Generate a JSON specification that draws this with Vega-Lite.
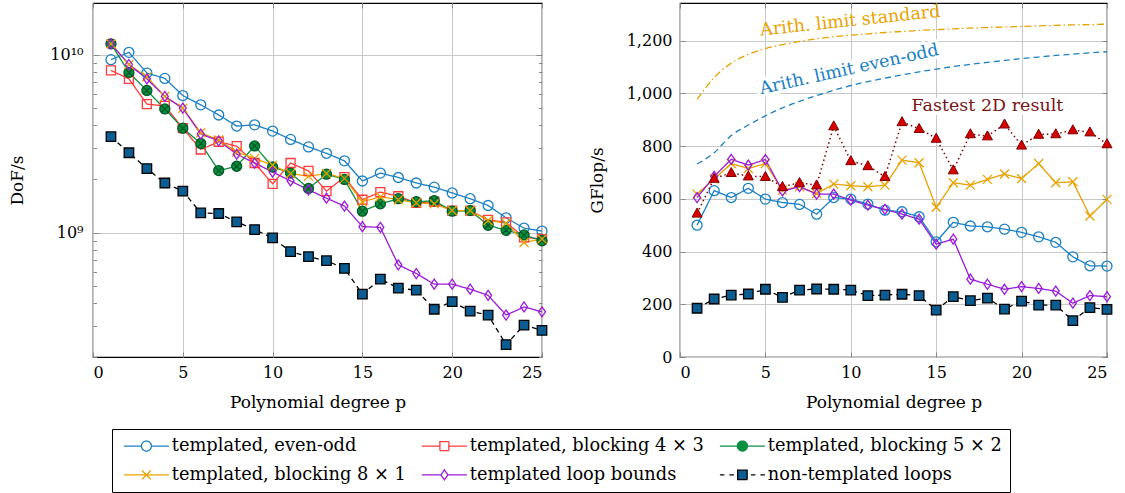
{
  "$schema": "https://vega.github.io/schema/vega-lite/v6.json",
  "background": "white",
  "padding": {"left": 8, "top": 1, "right": 5, "bottom": 5},
  "spacing": 36,
  "config": {
    "font": "DejaVu Serif",
    "view": {"stroke": "black", "strokeWidth": 1.2},
    "axis": {"labelFont": "DejaVu Serif", "labelFontSize": 16, "labelColor": "black", "titleFont": "DejaVu Serif", "titleFontSize": 17, "titleFontWeight": "normal", "titleColor": "black", "domain": false, "tickColor": "#888888", "gridColor": "#c8c8c8", "gridWidth": 1}
  },
  "datasets": {
    "dof": [
      {"s": "templated, even-odd", "p": 1, "v": 9.37e9}, {"s": "templated, even-odd", "p": 2, "v": 1.03e10}, {"s": "templated, even-odd", "p": 3, "v": 7.88e9}, {"s": "templated, even-odd", "p": 4, "v": 7.35e9}, {"s": "templated, even-odd", "p": 5, "v": 5.89e9}, {"s": "templated, even-odd", "p": 6, "v": 5.22e9}, {"s": "templated, even-odd", "p": 7, "v": 4.58e9}, {"s": "templated, even-odd", "p": 8, "v": 3.97e9}, {"s": "templated, even-odd", "p": 9, "v": 4.03e9}, {"s": "templated, even-odd", "p": 10, "v": 3.72e9}, {"s": "templated, even-odd", "p": 11, "v": 3.34e9}, {"s": "templated, even-odd", "p": 12, "v": 3.03e9}, {"s": "templated, even-odd", "p": 13, "v": 2.79e9}, {"s": "templated, even-odd", "p": 14, "v": 2.53e9}, {"s": "templated, even-odd", "p": 15, "v": 1.95e9}, {"s": "templated, even-odd", "p": 16, "v": 2.16e9}, {"s": "templated, even-odd", "p": 17, "v": 2.04e9}, {"s": "templated, even-odd", "p": 18, "v": 1.90e9}, {"s": "templated, even-odd", "p": 19, "v": 1.80e9}, {"s": "templated, even-odd", "p": 20, "v": 1.67e9}, {"s": "templated, even-odd", "p": 21, "v": 1.55e9}, {"s": "templated, even-odd", "p": 22, "v": 1.42e9}, {"s": "templated, even-odd", "p": 23, "v": 1.21e9}, {"s": "templated, even-odd", "p": 24, "v": 1.06e9}, {"s": "templated, even-odd", "p": 25, "v": 1.02e9},
      {"s": "templated, blocking 4 × 3", "p": 1, "v": 8.15e9}, {"s": "templated, blocking 4 × 3", "p": 2, "v": 7.31e9}, {"s": "templated, blocking 4 × 3", "p": 3, "v": 5.27e9}, {"s": "templated, blocking 4 × 3", "p": 4, "v": 5.15e9}, {"s": "templated, blocking 4 × 3", "p": 5, "v": 3.86e9}, {"s": "templated, blocking 4 × 3", "p": 6, "v": 2.93e9}, {"s": "templated, blocking 4 × 3", "p": 7, "v": 3.24e9}, {"s": "templated, blocking 4 × 3", "p": 8, "v": 3.06e9}, {"s": "templated, blocking 4 × 3", "p": 9, "v": 2.46e9}, {"s": "templated, blocking 4 × 3", "p": 10, "v": 1.88e9}, {"s": "templated, blocking 4 × 3", "p": 11, "v": 2.46e9}, {"s": "templated, blocking 4 × 3", "p": 12, "v": 2.22e9}, {"s": "templated, blocking 4 × 3", "p": 13, "v": 1.71e9}, {"s": "templated, blocking 4 × 3", "p": 14, "v": 2.05e9}, {"s": "templated, blocking 4 × 3", "p": 15, "v": 1.53e9}, {"s": "templated, blocking 4 × 3", "p": 16, "v": 1.69e9}, {"s": "templated, blocking 4 × 3", "p": 17, "v": 1.60e9}, {"s": "templated, blocking 4 × 3", "p": 18, "v": 1.47e9}, {"s": "templated, blocking 4 × 3", "p": 19, "v": 1.49e9}, {"s": "templated, blocking 4 × 3", "p": 20, "v": 1.33e9}, {"s": "templated, blocking 4 × 3", "p": 21, "v": 1.33e9}, {"s": "templated, blocking 4 × 3", "p": 22, "v": 1.18e9}, {"s": "templated, blocking 4 × 3", "p": 23, "v": 1.14e9}, {"s": "templated, blocking 4 × 3", "p": 24, "v": 9.4e8}, {"s": "templated, blocking 4 × 3", "p": 25, "v": 9.2e8},
      {"s": "templated, blocking 5 × 2", "p": 1, "v": 1.15e10}, {"s": "templated, blocking 5 × 2", "p": 2, "v": 7.94e9}, {"s": "templated, blocking 5 × 2", "p": 3, "v": 6.29e9}, {"s": "templated, blocking 5 × 2", "p": 4, "v": 4.95e9}, {"s": "templated, blocking 5 × 2", "p": 5, "v": 3.86e9}, {"s": "templated, blocking 5 × 2", "p": 6, "v": 3.17e9}, {"s": "templated, blocking 5 × 2", "p": 7, "v": 2.23e9}, {"s": "templated, blocking 5 × 2", "p": 8, "v": 2.36e9}, {"s": "templated, blocking 5 × 2", "p": 9, "v": 3.07e9}, {"s": "templated, blocking 5 × 2", "p": 10, "v": 2.34e9}, {"s": "templated, blocking 5 × 2", "p": 11, "v": 2.16e9}, {"s": "templated, blocking 5 × 2", "p": 12, "v": 1.77e9}, {"s": "templated, blocking 5 × 2", "p": 13, "v": 2.13e9}, {"s": "templated, blocking 5 × 2", "p": 14, "v": 1.99e9}, {"s": "templated, blocking 5 × 2", "p": 15, "v": 1.32e9}, {"s": "templated, blocking 5 × 2", "p": 16, "v": 1.45e9}, {"s": "templated, blocking 5 × 2", "p": 17, "v": 1.55e9}, {"s": "templated, blocking 5 × 2", "p": 18, "v": 1.49e9}, {"s": "templated, blocking 5 × 2", "p": 19, "v": 1.51e9}, {"s": "templated, blocking 5 × 2", "p": 20, "v": 1.32e9}, {"s": "templated, blocking 5 × 2", "p": 21, "v": 1.33e9}, {"s": "templated, blocking 5 × 2", "p": 22, "v": 1.10e9}, {"s": "templated, blocking 5 × 2", "p": 23, "v": 1.03e9}, {"s": "templated, blocking 5 × 2", "p": 24, "v": 9.7e8}, {"s": "templated, blocking 5 × 2", "p": 25, "v": 9.0e8},
      {"s": "templated, blocking 8 × 1", "p": 1, "v": 1.15e10}, {"s": "templated, blocking 8 × 1", "p": 2, "v": 8.8e9}, {"s": "templated, blocking 8 × 1", "p": 3, "v": 7.48e9}, {"s": "templated, blocking 8 × 1", "p": 4, "v": 5.82e9}, {"s": "templated, blocking 8 × 1", "p": 5, "v": 5.0e9}, {"s": "templated, blocking 8 × 1", "p": 6, "v": 3.64e9}, {"s": "templated, blocking 8 × 1", "p": 7, "v": 3.31e9}, {"s": "templated, blocking 8 × 1", "p": 8, "v": 2.84e9}, {"s": "templated, blocking 8 × 1", "p": 9, "v": 2.61e9}, {"s": "templated, blocking 8 × 1", "p": 10, "v": 2.39e9}, {"s": "templated, blocking 8 × 1", "p": 11, "v": 2.15e9}, {"s": "templated, blocking 8 × 1", "p": 12, "v": 2.07e9}, {"s": "templated, blocking 8 × 1", "p": 13, "v": 2.15e9}, {"s": "templated, blocking 8 × 1", "p": 14, "v": 2.01e9}, {"s": "templated, blocking 8 × 1", "p": 15, "v": 1.49e9}, {"s": "templated, blocking 8 × 1", "p": 16, "v": 1.59e9}, {"s": "templated, blocking 8 × 1", "p": 17, "v": 1.53e9}, {"s": "templated, blocking 8 × 1", "p": 18, "v": 1.47e9}, {"s": "templated, blocking 8 × 1", "p": 19, "v": 1.45e9}, {"s": "templated, blocking 8 × 1", "p": 20, "v": 1.33e9}, {"s": "templated, blocking 8 × 1", "p": 21, "v": 1.33e9}, {"s": "templated, blocking 8 × 1", "p": 22, "v": 1.17e9}, {"s": "templated, blocking 8 × 1", "p": 23, "v": 1.13e9}, {"s": "templated, blocking 8 × 1", "p": 24, "v": 8.8e8}, {"s": "templated, blocking 8 × 1", "p": 25, "v": 9.2e8},
      {"s": "templated loop bounds", "p": 1, "v": 1.15e10}, {"s": "templated loop bounds", "p": 2, "v": 8.8e9}, {"s": "templated loop bounds", "p": 3, "v": 7.31e9}, {"s": "templated loop bounds", "p": 4, "v": 5.82e9}, {"s": "templated loop bounds", "p": 5, "v": 5.0e9}, {"s": "templated loop bounds", "p": 6, "v": 3.58e9}, {"s": "templated loop bounds", "p": 7, "v": 3.28e9}, {"s": "templated loop bounds", "p": 8, "v": 2.76e9}, {"s": "templated loop bounds", "p": 9, "v": 2.46e9}, {"s": "templated loop bounds", "p": 10, "v": 2.19e9}, {"s": "templated loop bounds", "p": 11, "v": 1.95e9}, {"s": "templated loop bounds", "p": 12, "v": 1.74e9}, {"s": "templated loop bounds", "p": 13, "v": 1.56e9}, {"s": "templated loop bounds", "p": 14, "v": 1.41e9}, {"s": "templated loop bounds", "p": 15, "v": 1.08e9}, {"s": "templated loop bounds", "p": 16, "v": 1.07e9}, {"s": "templated loop bounds", "p": 17, "v": 6.59e8}, {"s": "templated loop bounds", "p": 18, "v": 5.89e8}, {"s": "templated loop bounds", "p": 19, "v": 5.13e8}, {"s": "templated loop bounds", "p": 20, "v": 5.13e8}, {"s": "templated loop bounds", "p": 21, "v": 4.81e8}, {"s": "templated loop bounds", "p": 22, "v": 4.44e8}, {"s": "templated loop bounds", "p": 23, "v": 3.44e8}, {"s": "templated loop bounds", "p": 24, "v": 3.82e8}, {"s": "templated loop bounds", "p": 25, "v": 3.59e8},
      {"s": "non-templated loops", "p": 1, "v": 3.46e9}, {"s": "non-templated loops", "p": 2, "v": 2.81e9}, {"s": "non-templated loops", "p": 3, "v": 2.29e9}, {"s": "non-templated loops", "p": 4, "v": 1.90e9}, {"s": "non-templated loops", "p": 5, "v": 1.71e9}, {"s": "non-templated loops", "p": 6, "v": 1.29e9}, {"s": "non-templated loops", "p": 7, "v": 1.28e9}, {"s": "non-templated loops", "p": 8, "v": 1.15e9}, {"s": "non-templated loops", "p": 9, "v": 1.04e9}, {"s": "non-templated loops", "p": 10, "v": 9.33e8}, {"s": "non-templated loops", "p": 11, "v": 7.81e8}, {"s": "non-templated loops", "p": 12, "v": 7.32e8}, {"s": "non-templated loops", "p": 13, "v": 6.95e8}, {"s": "non-templated loops", "p": 14, "v": 6.29e8}, {"s": "non-templated loops", "p": 15, "v": 4.51e8}, {"s": "non-templated loops", "p": 16, "v": 5.48e8}, {"s": "non-templated loops", "p": 17, "v": 4.87e8}, {"s": "non-templated loops", "p": 18, "v": 4.75e8}, {"s": "non-templated loops", "p": 19, "v": 3.71e8}, {"s": "non-templated loops", "p": 20, "v": 4.09e8}, {"s": "non-templated loops", "p": 21, "v": 3.62e8}, {"s": "non-templated loops", "p": 22, "v": 3.44e8}, {"s": "non-templated loops", "p": 23, "v": 2.35e8}, {"s": "non-templated loops", "p": 24, "v": 3.02e8}, {"s": "non-templated loops", "p": 25, "v": 2.82e8}
    ],
    "gflop": [
      {"s": "templated, even-odd", "p": 1, "v": 500}, {"s": "templated, even-odd", "p": 2, "v": 631}, {"s": "templated, even-odd", "p": 3, "v": 605}, {"s": "templated, even-odd", "p": 4, "v": 640}, {"s": "templated, even-odd", "p": 5, "v": 599}, {"s": "templated, even-odd", "p": 6, "v": 586}, {"s": "templated, even-odd", "p": 7, "v": 579}, {"s": "templated, even-odd", "p": 8, "v": 542}, {"s": "templated, even-odd", "p": 9, "v": 605}, {"s": "templated, even-odd", "p": 10, "v": 599}, {"s": "templated, even-odd", "p": 11, "v": 580}, {"s": "templated, even-odd", "p": 12, "v": 557}, {"s": "templated, even-odd", "p": 13, "v": 551}, {"s": "templated, even-odd", "p": 14, "v": 532}, {"s": "templated, even-odd", "p": 15, "v": 437}, {"s": "templated, even-odd", "p": 16, "v": 511}, {"s": "templated, even-odd", "p": 17, "v": 497}, {"s": "templated, even-odd", "p": 18, "v": 494}, {"s": "templated, even-odd", "p": 19, "v": 485}, {"s": "templated, even-odd", "p": 20, "v": 473}, {"s": "templated, even-odd", "p": 21, "v": 456}, {"s": "templated, even-odd", "p": 22, "v": 435}, {"s": "templated, even-odd", "p": 23, "v": 380}, {"s": "templated, even-odd", "p": 24, "v": 346}, {"s": "templated, even-odd", "p": 25, "v": 345},
      {"s": "templated, blocking 8 × 1", "p": 1, "v": 618}, {"s": "templated, blocking 8 × 1", "p": 2, "v": 675}, {"s": "templated, blocking 8 × 1", "p": 3, "v": 734}, {"s": "templated, blocking 8 × 1", "p": 4, "v": 715}, {"s": "templated, blocking 8 × 1", "p": 5, "v": 734}, {"s": "templated, blocking 8 × 1", "p": 6, "v": 633}, {"s": "templated, blocking 8 × 1", "p": 7, "v": 646}, {"s": "templated, blocking 8 × 1", "p": 8, "v": 620}, {"s": "templated, blocking 8 × 1", "p": 9, "v": 656}, {"s": "templated, blocking 8 × 1", "p": 10, "v": 650}, {"s": "templated, blocking 8 × 1", "p": 11, "v": 646}, {"s": "templated, blocking 8 × 1", "p": 12, "v": 652}, {"s": "templated, blocking 8 × 1", "p": 13, "v": 747}, {"s": "templated, blocking 8 × 1", "p": 14, "v": 737}, {"s": "templated, blocking 8 × 1", "p": 15, "v": 568}, {"s": "templated, blocking 8 × 1", "p": 16, "v": 661}, {"s": "templated, blocking 8 × 1", "p": 17, "v": 652}, {"s": "templated, blocking 8 × 1", "p": 18, "v": 674}, {"s": "templated, blocking 8 × 1", "p": 19, "v": 694}, {"s": "templated, blocking 8 × 1", "p": 20, "v": 677}, {"s": "templated, blocking 8 × 1", "p": 21, "v": 734}, {"s": "templated, blocking 8 × 1", "p": 22, "v": 661}, {"s": "templated, blocking 8 × 1", "p": 23, "v": 665}, {"s": "templated, blocking 8 × 1", "p": 24, "v": 535}, {"s": "templated, blocking 8 × 1", "p": 25, "v": 598},
      {"s": "templated loop bounds", "p": 1, "v": 605}, {"s": "templated loop bounds", "p": 2, "v": 685}, {"s": "templated loop bounds", "p": 3, "v": 750}, {"s": "templated loop bounds", "p": 4, "v": 728}, {"s": "templated loop bounds", "p": 5, "v": 749}, {"s": "templated loop bounds", "p": 6, "v": 630}, {"s": "templated loop bounds", "p": 7, "v": 646}, {"s": "templated loop bounds", "p": 8, "v": 618}, {"s": "templated loop bounds", "p": 9, "v": 618}, {"s": "templated loop bounds", "p": 10, "v": 595}, {"s": "templated loop bounds", "p": 11, "v": 576}, {"s": "templated loop bounds", "p": 12, "v": 560}, {"s": "templated loop bounds", "p": 13, "v": 542}, {"s": "templated loop bounds", "p": 14, "v": 523}, {"s": "templated loop bounds", "p": 15, "v": 428}, {"s": "templated loop bounds", "p": 16, "v": 447}, {"s": "templated loop bounds", "p": 17, "v": 295}, {"s": "templated loop bounds", "p": 18, "v": 276}, {"s": "templated loop bounds", "p": 19, "v": 257}, {"s": "templated loop bounds", "p": 20, "v": 267}, {"s": "templated loop bounds", "p": 21, "v": 260}, {"s": "templated loop bounds", "p": 22, "v": 250}, {"s": "templated loop bounds", "p": 23, "v": 204}, {"s": "templated loop bounds", "p": 24, "v": 233}, {"s": "templated loop bounds", "p": 25, "v": 229},
      {"s": "non-templated loops", "p": 1, "v": 185}, {"s": "non-templated loops", "p": 2, "v": 220}, {"s": "non-templated loops", "p": 3, "v": 235}, {"s": "non-templated loops", "p": 4, "v": 239}, {"s": "non-templated loops", "p": 5, "v": 257}, {"s": "non-templated loops", "p": 6, "v": 226}, {"s": "non-templated loops", "p": 7, "v": 254}, {"s": "non-templated loops", "p": 8, "v": 258}, {"s": "non-templated loops", "p": 9, "v": 257}, {"s": "non-templated loops", "p": 10, "v": 254}, {"s": "non-templated loops", "p": 11, "v": 233}, {"s": "non-templated loops", "p": 12, "v": 235}, {"s": "non-templated loops", "p": 13, "v": 238}, {"s": "non-templated loops", "p": 14, "v": 233}, {"s": "non-templated loops", "p": 15, "v": 178}, {"s": "non-templated loops", "p": 16, "v": 229}, {"s": "non-templated loops", "p": 17, "v": 214}, {"s": "non-templated loops", "p": 18, "v": 223}, {"s": "non-templated loops", "p": 19, "v": 182}, {"s": "non-templated loops", "p": 20, "v": 212}, {"s": "non-templated loops", "p": 21, "v": 197}, {"s": "non-templated loops", "p": 22, "v": 197}, {"s": "non-templated loops", "p": 23, "v": 138}, {"s": "non-templated loops", "p": 24, "v": 187}, {"s": "non-templated loops", "p": 25, "v": 181}
    ],
    "fastest": [
      {"p": 1, "v": 545}, {"p": 2, "v": 677}, {"p": 3, "v": 699}, {"p": 4, "v": 686}, {"p": 5, "v": 684}, {"p": 6, "v": 646}, {"p": 7, "v": 661}, {"p": 8, "v": 652}, {"p": 9, "v": 876}, {"p": 10, "v": 744}, {"p": 11, "v": 725}, {"p": 12, "v": 684}, {"p": 13, "v": 892}, {"p": 14, "v": 866}, {"p": 15, "v": 829}, {"p": 16, "v": 709}, {"p": 17, "v": 846}, {"p": 18, "v": 838}, {"p": 19, "v": 883}, {"p": 20, "v": 803}, {"p": 21, "v": 844}, {"p": 22, "v": 846}, {"p": 23, "v": 861}, {"p": 24, "v": 853}, {"p": 25, "v": 808}
    ],
    "limits": [
      {"s": "standard", "p": 1, "v": 977}, {"s": "standard", "p": 2, "v": 1060}, {"s": "standard", "p": 3, "v": 1115}, {"s": "standard", "p": 4, "v": 1148}, {"s": "standard", "p": 5, "v": 1170}, {"s": "standard", "p": 6, "v": 1185}, {"s": "standard", "p": 7, "v": 1197}, {"s": "standard", "p": 8, "v": 1207}, {"s": "standard", "p": 9, "v": 1215}, {"s": "standard", "p": 10, "v": 1221}, {"s": "standard", "p": 11, "v": 1226}, {"s": "standard", "p": 12, "v": 1231}, {"s": "standard", "p": 13, "v": 1235}, {"s": "standard", "p": 14, "v": 1239}, {"s": "standard", "p": 15, "v": 1242}, {"s": "standard", "p": 16, "v": 1245}, {"s": "standard", "p": 17, "v": 1248}, {"s": "standard", "p": 18, "v": 1250}, {"s": "standard", "p": 19, "v": 1252}, {"s": "standard", "p": 20, "v": 1254}, {"s": "standard", "p": 21, "v": 1256}, {"s": "standard", "p": 22, "v": 1258}, {"s": "standard", "p": 23, "v": 1260}, {"s": "standard", "p": 24, "v": 1261}, {"s": "standard", "p": 25, "v": 1263},
      {"s": "even-odd", "p": 1, "v": 732}, {"s": "even-odd", "p": 2, "v": 775}, {"s": "even-odd", "p": 3, "v": 840}, {"s": "even-odd", "p": 4, "v": 880}, {"s": "even-odd", "p": 5, "v": 915}, {"s": "even-odd", "p": 6, "v": 945}, {"s": "even-odd", "p": 7, "v": 970}, {"s": "even-odd", "p": 8, "v": 992}, {"s": "even-odd", "p": 9, "v": 1012}, {"s": "even-odd", "p": 10, "v": 1030}, {"s": "even-odd", "p": 11, "v": 1045}, {"s": "even-odd", "p": 12, "v": 1058}, {"s": "even-odd", "p": 13, "v": 1070}, {"s": "even-odd", "p": 14, "v": 1082}, {"s": "even-odd", "p": 15, "v": 1092}, {"s": "even-odd", "p": 16, "v": 1102}, {"s": "even-odd", "p": 17, "v": 1110}, {"s": "even-odd", "p": 18, "v": 1118}, {"s": "even-odd", "p": 19, "v": 1125}, {"s": "even-odd", "p": 20, "v": 1132}, {"s": "even-odd", "p": 21, "v": 1138}, {"s": "even-odd", "p": 22, "v": 1144}, {"s": "even-odd", "p": 23, "v": 1149}, {"s": "even-odd", "p": 24, "v": 1154}, {"s": "even-odd", "p": 25, "v": 1158}
    ],
    "notes": [
      {"label": "Arith. limit standard", "p": 9.97, "v": 1274},
      {"label": "Arith. limit even-odd", "p": 9.9, "v": 1090},
      {"label": "Fastest 2D result", "p": 18.0, "v": 952}
    ]
  },
  "hconcat": [
    {
      "width": 449,
      "height": 354,
      "data": {"name": "dof"},
      "layer": [
        {
          "encoding": {
            "x": {"field": "p", "type": "quantitative", "scale": {"domain": [0, 25], "nice": false}, "axis": {"title": "Polynomial degree p", "values": [0, 5, 10, 15, 20, 25], "tickSize": -5, "labelPadding": 12, "titlePadding": 14, "grid": true}},
            "y": {"field": "v", "type": "quantitative", "scale": {"type": "log", "domain": [2e8, 1.95e10], "nice": false},
              "axis": {"title": "DoF/s", "values": [2e8, 3e8, 4e8, 5e8, 6e8, 7e8, 8e8, 9e8, 1e9, 2e9, 3e9, 4e9, 5e9, 6e9, 7e9, 8e9, 9e9, 1e10],
                "labelExpr": "datum.value == 1e10 ? '10¹⁰' : (datum.value == 1e9 ? '10⁹' : '')",
                "grid": true,
                "gridOpacity": {"condition": {"test": "datum.value == 1e9 || datum.value == 1e10", "value": 1}, "value": 0},
                "tickSize": {"condition": {"test": "datum.value == 1e9 || datum.value == 1e10", "value": -6}, "value": -3.5},
                "labelPadding": 16, "titlePadding": 23}}
          },
          "layer": [
            {
              "mark": {"type": "line", "strokeWidth": 1.3},
              "encoding": {
                "color": {"field": "s", "type": "nominal",
                  "scale": {"domain": ["templated, even-odd", "templated, blocking 4 × 3", "templated, blocking 5 × 2", "templated, blocking 8 × 1", "templated loop bounds", "non-templated loops"], "range": ["#1a80c4", "#ff3b3b", "#0a9040", "#e8a200", "#9b1bd9", "#000000"]},
                  "legend": {"orient": "none", "legendX": 19, "legendY": 426, "direction": "horizontal", "columns": 3, "title": null, "strokeColor": "black", "fillColor": "white", "padding": 8, "columnPadding": 12, "rowPadding": 10, "labelFont": "DejaVu Serif", "labelFontSize": 17.8, "labelColor": "black", "labelOffset": 34, "symbolSize": 100, "symbolStrokeWidth": 1.3, "labelLimit": 400,
                    "encoding": {"symbols": {
                      "shape": {"value": {"expr": "datum.value == 'templated, even-odd' ? 'M-1,0H2.5M4.5,0H8M2.5,0A1,1,0,1,0,4.5,0A1,1,0,1,0,2.5,0' : (datum.value == 'templated, blocking 4 × 3' ? 'M-1,0H2.6M4.4,0H8M2.6,-0.9H4.4V0.9H2.6Z' : (datum.value == 'templated, blocking 5 × 2' ? 'M-1,0H2.5M4.5,0H8M2.5,0A1,1,0,1,0,4.5,0A1,1,0,1,0,2.5,0ZM2.9,-0.6L4.1,0.6M2.9,0.6L4.1,-0.6' : (datum.value == 'templated, blocking 8 × 1' ? 'M-1,0H8M2.6,-0.9L4.4,0.9M2.6,0.9L4.4,-0.9' : (datum.value == 'templated loop bounds' ? 'M-1,0H2.8M4.2,0H8M3.5,-1L4.2,0L3.5,1L2.8,0Z' : 'M-1,0H-0.1M0.9,0H1.8M5.2,0H6.1M7.1,0H8M2.55,-0.95H4.45V0.95H2.55Z'))))"}},
                      "fill": {"value": {"expr": "datum.value == 'templated, blocking 5 × 2' ? '#0a9040' : (datum.value == 'non-templated loops' ? '#0b5d91' : 'white')"}},
                      "stroke": {"value": {"expr": "datum.value == 'templated, even-odd' ? '#1a80c4' : (datum.value == 'templated, blocking 4 × 3' ? '#ff3b3b' : (datum.value == 'templated, blocking 5 × 2' ? '#0a9040' : (datum.value == 'templated, blocking 8 × 1' ? '#e8a200' : (datum.value == 'templated loop bounds' ? '#9b1bd9' : '#000000'))))"}},
                      "strokeDash": {"value": [1, 0]},
                      "opacity": {"value": 1}
                    }}}
                },
                "strokeDash": {"field": "s", "type": "nominal", "scale": {"domain": ["non-templated loops", "templated loop bounds", "templated, blocking 8 × 1", "templated, blocking 5 × 2", "templated, blocking 4 × 3", "templated, even-odd"], "range": [[5, 4], [1, 0], [1, 0], [1, 0], [1, 0], [1, 0]]}, "legend": null}
              }
            },
            {
              "mark": {"type": "point", "size": 100, "strokeWidth": 1.3, "opacity": 1},
              "encoding": {
                "shape": {"field": "s", "type": "nominal", "scale": {"domain": ["non-templated loops", "templated loop bounds", "templated, blocking 8 × 1", "templated, blocking 5 × 2", "templated, blocking 4 × 3", "templated, even-odd"], "range": ["M-0.95,-0.95H0.95V0.95H-0.95Z", "M0,-1L0.7,0L0,1L-0.7,0Z", "M-0.9,-0.9L0.9,0.9M-0.9,0.9L0.9,-0.9", "M-1,0A1,1,0,1,0,1,0A1,1,0,1,0,-1,0ZM-0.6,-0.6L0.6,0.6M-0.6,0.6L0.6,-0.6", "M-0.9,-0.9H0.9V0.9H-0.9Z", "circle"]}, "legend": null},
                "stroke": {"field": "s", "type": "nominal", "scale": {"domain": ["non-templated loops", "templated loop bounds", "templated, blocking 8 × 1", "templated, blocking 5 × 2", "templated, blocking 4 × 3", "templated, even-odd"], "range": ["#000000", "#9b1bd9", "#e8a200", "#005a25", "#ff3b3b", "#1a80c4"]}, "legend": null},
                "fill": {"field": "s", "type": "nominal", "scale": {"domain": ["non-templated loops", "templated loop bounds", "templated, blocking 8 × 1", "templated, blocking 5 × 2", "templated, blocking 4 × 3", "templated, even-odd"], "range": ["#0b5d91", "transparent", "transparent", "#0a9040", "transparent", "transparent"]}, "legend": null}
              }
            }
          ]
        },
        {
          "mark": {"type": "point", "opacity": 0},
          "encoding": {
            "x": {"field": "p", "type": "quantitative", "scale": {"domain": [0, 25], "nice": false}, "axis": {"orient": "top", "title": null, "labels": false, "values": [0, 5, 10, 15, 20, 25], "tickSize": -5, "grid": false}},
            "y": {"field": "v", "type": "quantitative", "scale": {"type": "log", "domain": [2e8, 1.95e10], "nice": false},
              "axis": {"orient": "right", "title": null, "labels": false, "grid": false, "values": [2e8, 3e8, 4e8, 5e8, 6e8, 7e8, 8e8, 9e8, 1e9, 2e9, 3e9, 4e9, 5e9, 6e9, 7e9, 8e9, 9e9, 1e10],
                "tickSize": {"condition": {"test": "datum.value == 1e9 || datum.value == 1e10", "value": -6}, "value": -3.5}}}
          }
        }
      ],
      "resolve": {"axis": {"x": "independent", "y": "independent"}}
    },
    {
      "width": 427,
      "height": 354,
      "layer": [
        {
          "encoding": {
            "x": {"field": "p", "type": "quantitative", "scale": {"domain": [0, 25], "nice": false}, "axis": {"title": "Polynomial degree p", "values": [0, 5, 10, 15, 20, 25], "tickSize": -5, "labelPadding": 12, "titlePadding": 14, "grid": true}},
            "y": {"field": "v", "type": "quantitative", "scale": {"domain": [0, 1343], "nice": false}, "axis": {"title": "GFlop/s", "values": [0, 200, 400, 600, 800, 1000, 1200], "format": ",d", "tickSize": -5, "grid": true, "labelPadding": 13, "titlePadding": 20}}
          },
          "layer": [
            {
              "data": {"name": "limits"},
              "transform": [{"filter": "datum.s == 'standard'"}],
              "mark": {"type": "line", "color": "#e8a200", "strokeWidth": 1.3, "strokeDash": [7, 3, 1.5, 3], "interpolate": "monotone"}
            },
            {
              "data": {"name": "limits"},
              "transform": [{"filter": "datum.s == 'even-odd'"}],
              "mark": {"type": "line", "color": "#1a80c4", "strokeWidth": 1.3, "strokeDash": [6, 4], "interpolate": "monotone"}
            },
            {
              "data": {"name": "gflop"},
              "mark": {"type": "line", "strokeWidth": 1.3},
              "encoding": {
                "color": {"field": "s", "type": "nominal", "scale": {"domain": ["templated, even-odd", "templated, blocking 4 × 3", "templated, blocking 5 × 2", "templated, blocking 8 × 1", "templated loop bounds", "non-templated loops"], "range": ["#1a80c4", "#ff3b3b", "#0a9040", "#e8a200", "#9b1bd9", "#000000"]}},
                "strokeDash": {"field": "s", "type": "nominal", "scale": {"domain": ["non-templated loops", "templated loop bounds", "templated, blocking 8 × 1", "templated, blocking 5 × 2", "templated, blocking 4 × 3", "templated, even-odd"], "range": [[5, 4], [1, 0], [1, 0], [1, 0], [1, 0], [1, 0]]}, "legend": null}
              }
            },
            {
              "data": {"name": "gflop"},
              "mark": {"type": "point", "size": 100, "strokeWidth": 1.3, "opacity": 1},
              "encoding": {
                "shape": {"field": "s", "type": "nominal", "scale": {"domain": ["non-templated loops", "templated loop bounds", "templated, blocking 8 × 1", "templated, blocking 5 × 2", "templated, blocking 4 × 3", "templated, even-odd"], "range": ["M-0.95,-0.95H0.95V0.95H-0.95Z", "M0,-1L0.7,0L0,1L-0.7,0Z", "M-0.9,-0.9L0.9,0.9M-0.9,0.9L0.9,-0.9", "M-1,0A1,1,0,1,0,1,0A1,1,0,1,0,-1,0ZM-0.6,-0.6L0.6,0.6M-0.6,0.6L0.6,-0.6", "M-0.9,-0.9H0.9V0.9H-0.9Z", "circle"]}, "legend": null},
                "stroke": {"field": "s", "type": "nominal", "scale": {"domain": ["non-templated loops", "templated loop bounds", "templated, blocking 8 × 1", "templated, blocking 5 × 2", "templated, blocking 4 × 3", "templated, even-odd"], "range": ["#000000", "#9b1bd9", "#e8a200", "#005a25", "#ff3b3b", "#1a80c4"]}, "legend": null},
                "fill": {"field": "s", "type": "nominal", "scale": {"domain": ["non-templated loops", "templated loop bounds", "templated, blocking 8 × 1", "templated, blocking 5 × 2", "templated, blocking 4 × 3", "templated, even-odd"], "range": ["#0b5d91", "transparent", "transparent", "#0a9040", "transparent", "transparent"]}, "legend": null}
              }
            },
            {
              "data": {"name": "fastest"},
              "mark": {"type": "line", "color": "#800000", "strokeWidth": 1.5, "strokeDash": [1.5, 3]}
            },
            {
              "data": {"name": "fastest"},
              "mark": {"type": "point", "shape": "M0,-1.05L1,0.75L-1,0.75Z", "size": 100, "filled": true, "fill": "#d40000", "stroke": "#800000", "strokeWidth": 1, "opacity": 1}
            },
            {
              "data": {"name": "notes"},
              "transform": [{"filter": "datum.label == 'Arith. limit standard'"}],
              "mark": {"type": "text", "angle": -6, "fontSize": 17.5, "font": "DejaVu Serif", "color": "#e8a200"},
              "encoding": {"text": {"field": "label"}}
            },
            {
              "data": {"name": "notes"},
              "transform": [{"filter": "datum.label == 'Arith. limit even-odd'"}],
              "mark": {"type": "text", "angle": -12.5, "fontSize": 17.5, "font": "DejaVu Serif", "color": "white", "stroke": "white", "strokeWidth": 7, "strokeJoin": "round"},
              "encoding": {"text": {"field": "label"}}
            },
            {
              "data": {"name": "notes"},
              "transform": [{"filter": "datum.label == 'Arith. limit even-odd'"}],
              "mark": {"type": "text", "angle": -12.5, "fontSize": 17.5, "font": "DejaVu Serif", "color": "#1a80c4"},
              "encoding": {"text": {"field": "label"}}
            },
            {
              "data": {"name": "notes"},
              "transform": [{"filter": "datum.label == 'Fastest 2D result'"}],
              "mark": {"type": "text", "fontSize": 17.5, "font": "DejaVu Serif", "color": "white", "stroke": "white", "strokeWidth": 8, "strokeJoin": "round"},
              "encoding": {"text": {"field": "label"}}
            },
            {
              "data": {"name": "notes"},
              "transform": [{"filter": "datum.label == 'Fastest 2D result'"}],
              "mark": {"type": "text", "fontSize": 17.5, "font": "DejaVu Serif", "color": "#7a1515"},
              "encoding": {"text": {"field": "label"}}
            }
          ]
        },
        {
          "data": {"name": "gflop"},
          "mark": {"type": "point", "opacity": 0},
          "encoding": {
            "x": {"field": "p", "type": "quantitative", "scale": {"domain": [0, 25], "nice": false}, "axis": {"orient": "top", "title": null, "labels": false, "values": [0, 5, 10, 15, 20, 25], "tickSize": -5, "grid": false}},
            "y": {"field": "v", "type": "quantitative", "scale": {"domain": [0, 1343], "nice": false}, "axis": {"orient": "right", "title": null, "labels": false, "grid": false, "values": [0, 200, 400, 600, 800, 1000, 1200], "tickSize": -5}}
          }
        }
      ],
      "resolve": {"axis": {"x": "independent", "y": "independent"}}
    }
  ]
}
